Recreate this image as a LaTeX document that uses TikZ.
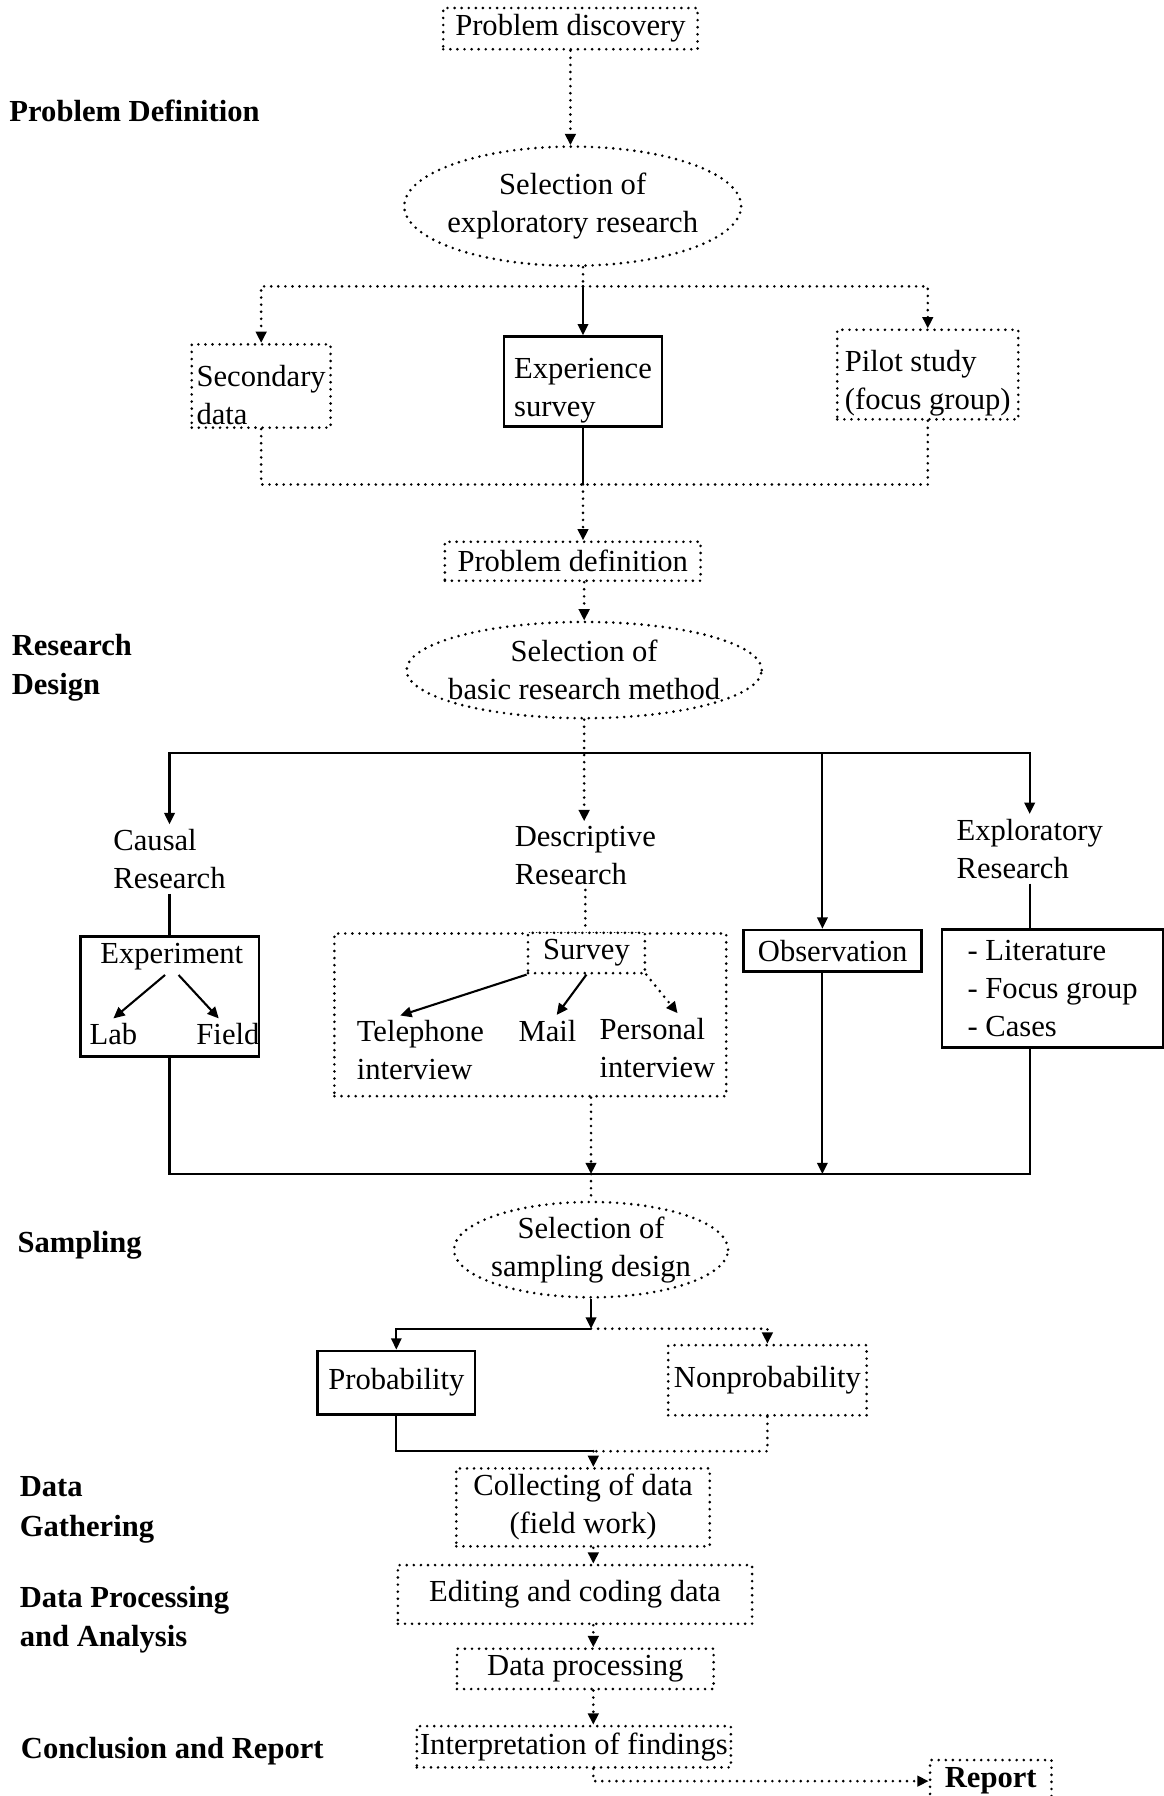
\documentclass[tikz,border=0pt]{standalone}
\usepackage{fontspec}
\setmainfont{Liberation Serif}
\usetikzlibrary{shapes.geometric,arrows.meta}

\tikzset{
  dotline/.style={line width=1.8pt,line cap=round,dash pattern=on 0pt off 4.4pt},
  solline/.style={line width=1.3pt},
  tip/.style={-{Triangle[length=7pt,width=6.5pt]}},
  dotarr/.style={dotline,tip},
  solarr/.style={solline,tip},
  dotbox/.style={draw,dotline,inner sep=2pt,align=center},
  solbox/.style={draw,line width=1.7pt,inner sep=2pt,align=center},
  dotell/.style={draw,ellipse,dotline,inner sep=-0.3cm,align=center},
  txt/.style={inner sep=3pt,align=left},
  stage/.style={anchor=west,inner sep=0pt,align=left,font=\fontsize{19}{24.5}\selectfont\bfseries},
}
\newcommand{\lowtxt}{\rule{0pt}{24pt}}

\begin{document}
\begin{tikzpicture}[x=0.025cm,y=-0.025cm,every node/.append style={font=\fontsize{19}{23.5}\selectfont}]
\useasboundingbox[fill=white] (0,0) rectangle (1016,1568);

% stages on the left
\node[stage] (sdef) at (8,97) {Problem Definition};
\node[stage] (sdes) at (10,583) {Research\\Design};
\node[stage] (ssam) at (15,1087) {Sampling};
\node[stage] (sgat) at (17,1318) {Data\\Gathering};
\node[stage] (sana) at (17,1414) {Data Processing\\and Analysis};
\node[stage] (srep) at (18,1529) {Conclusion and Report};

% problem definition
\node[dotbox,minimum width=5.55cm,minimum height=0.9cm] (disc) at (498,25) {Problem discovery};
\node[dotell,minimum width=7.35cm,minimum height=2.6cm] (ell1) at (500,180) {Selection of\\exploratory research};
\node[dotbox,align=left,minimum width=3.03cm,minimum height=1.75cm] (sec) at (228,337) {\lowtxt Secondary\\data};
\node[solbox,align=left,minimum width=3.45cm,minimum height=1.75cm] (exps) at (509,333) {\lowtxt Experience\\survey};
\node[dotbox,align=left,minimum width=3.95cm,minimum height=1.73cm] (pilot) at (810,327) {\lowtxt Pilot study\\(focus group)};
\node[dotbox,minimum width=5.58cm,minimum height=0.85cm] (pdef) at (500,490) {Problem definition};
\coordinate (t1) at (509,250);
\coordinate (t2) at (509,423);

\draw[dotarr] (disc.south) -- (disc.south |- ell1.north);
\draw[dotline] (ell1.south -| t1) -- (t1);
\draw[solarr] (t1) -- (exps.north);
\draw[dotarr] (t1) -| (sec.north);
\draw[dotarr] (t1) -| (pilot.north);
\draw[dotline] (sec.south) |- (t2);
\draw[dotline] (pilot.south) |- (t2);
\draw[solline] (exps.south) -- (t2);
\draw[dotarr] (t2) -- (t2 |- pdef.north);

% research design
\node[dotell,minimum width=7.75cm,minimum height=2.1cm] (ell2) at (510,585) {Selection of\\basic research method};
\node[txt] (causal) at (148,750) {Causal\\Research};
\node[txt] (desc) at (511,747) {Descriptive\\Research};
\node[txt] (explt) at (899,741) {Exploratory\\Research};
\node[solbox,minimum width=3.9cm,minimum height=2.63cm] (exper) at (148,870) {};
\node[txt] (expt) at (150,835) {Experiment};
\node[txt] (lab) at (99,903) {Lab};
\node[txt] (field) at (199,903) {Field};
\node[dotbox,minimum width=8.55cm,minimum height=3.55cm] (bigbox) at (463,886) {};
\node[dotbox,fill=white,minimum width=2.55cm,minimum height=0.88cm] (survey) at (512,832) {Survey};
\node[txt] (tel) at (367,917) {Telephone\\interview};
\node[txt] (mail) at (478,900) {Mail};
\node[txt] (pers) at (574,915) {Personal\\interview};
\node[solbox,minimum width=3.88cm,minimum height=0.9cm] (obs) at (727,830) {Observation};
\node[solbox,align=left,minimum width=4.83cm,minimum height=2.58cm] (expl) at (919,863) {- Literature\\- Focus group\\- Cases};
\coordinate (r1) at (718,657);
\coordinate (bl) at (516,1025);

\draw[dotarr] (pdef.south -| ell2) -- (ell2.north);
\draw[dotarr] (ell2.south) -- (ell2.south |- desc.north);
\draw[solarr] (r1) -| (causal.north);
\draw[solarr] (r1) -| (explt.north);
\draw[solarr] (r1) -- (r1 |- obs.north);
\draw[solline] (causal.south) -- (causal.south |- exper.north);
\draw[solarr] (expt.250) -- (lab.north);
\draw[solarr] (expt.290) -- (field.120);
\draw[dotline] (desc.south) -- (desc.south |- survey.north);
\draw[solarr] (survey.south west) -- (tel.120);
\draw[solarr] (survey.south) -- (mail.60);
\draw[dotarr] (survey.south east) -- (pers.60);
\draw[solline] (explt.south) -- (explt.south |- expl.north);
\draw[solline] (exper.south) |- (bl);
\draw[solline] (expl.south -| explt) |- (bl);
\draw[solarr] (obs.south -| r1) -- (r1 |- bl);
\draw[dotarr] (bigbox.south -| bl) -- (bl);

% sampling
\node[dotell,minimum width=5.98cm,minimum height=2.08cm] (ell3) at (516,1091) {Selection of\\sampling design};
\node[solbox,minimum width=3.43cm,minimum height=1.38cm] (prob) at (346,1207) {Probability};
\node[dotbox,minimum width=4.33cm,minimum height=1.53cm] (nonp) at (670,1205) {Nonprobability};
\coordinate (sj) at (516,1160);
\coordinate (cj) at (518,1267);

\draw[dotline] (bl) -- (bl |- ell3.north);
\draw[solarr] (ell3.south) -- (sj);
\draw[solarr] (sj) -| (prob.north);
\draw[dotarr] (sj) -| (nonp.north);
\draw[solline] (prob.south) |- (cj);
\draw[dotline] (nonp.south) |- (cj);

% data gathering, analysis, report
\node[dotbox,minimum width=5.53cm,minimum height=1.7cm] (coll) at (509,1316) {Collecting of data\\(field work)};
\node[dotbox,minimum width=7.73cm,minimum height=1.28cm] (edit) at (502,1392) {Editing and coding data};
\node[dotbox,minimum width=5.6cm,minimum height=0.88cm] (dproc) at (511,1457) {Data processing};
\node[dotbox,minimum width=6.83cm,minimum height=0.9cm] (interp) at (501,1525) {Interpretation of findings};
\node[dotbox,minimum width=2.65cm,minimum height=0.92cm,font=\fontsize{19}{23.5}\selectfont\bfseries] (report) at (865,1555) {Report};

\draw[dotarr] (cj) -- (cj |- coll.north);
\draw[dotarr] (coll.south -| cj) -- (cj |- edit.north);
\draw[dotarr] (edit.south -| cj) -- (cj |- dproc.north);
\draw[dotarr] (dproc.south -| cj) -- (cj |- interp.north);
\draw[dotarr] (interp.south -| cj) |- (report.west);
\end{tikzpicture}
\end{document}
